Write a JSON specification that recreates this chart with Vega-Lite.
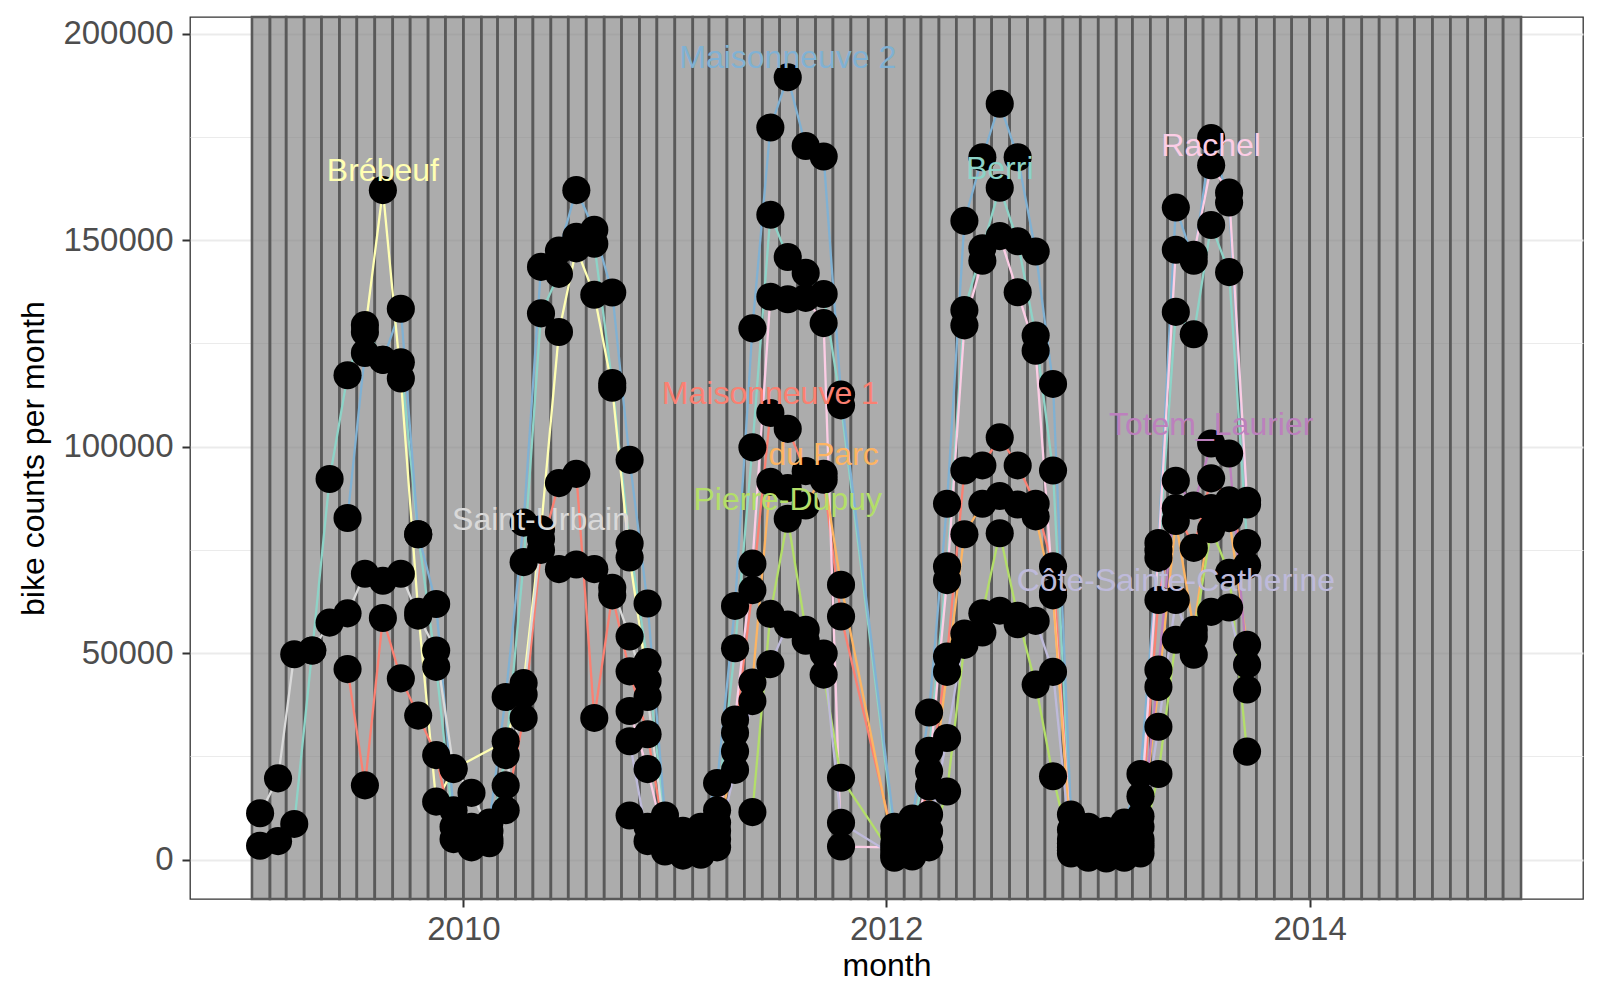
{
"$schema": "https://vega.github.io/schema/vega-lite/v6.json",
"width": 1393, "height": 882,
"autosize": {"type": "none"},
"padding": {"left": 190, "top": 17, "right": 17, "bottom": 101},
"background": "white",
"config": {
  "font": "Liberation Sans",
  "view": {"stroke": "#333333", "strokeWidth": 1.3},
  "axis": {"domain": false, "tickColor": "#333333", "tickWidth": 2, "tickSize": 8, "labelColor": "#4D4D4D", "labelFontSize": 33, "titleFontSize": 32, "titleFontWeight": "normal", "titleColor": "#000000", "gridColor": "#EBEBEB", "labelFont": "Liberation Sans", "titleFont": "Liberation Sans"}
},
"datasets": {
"months": [
{"month":"2009-01-01","end":"2009-02-01"},{"month":"2009-02-01","end":"2009-03-01"},{"month":"2009-03-01","end":"2009-04-01"},{"month":"2009-04-01","end":"2009-05-01"},{"month":"2009-05-01","end":"2009-06-01"},{"month":"2009-06-01","end":"2009-07-01"},{"month":"2009-07-01","end":"2009-08-01"},{"month":"2009-08-01","end":"2009-09-01"},{"month":"2009-09-01","end":"2009-10-01"},{"month":"2009-10-01","end":"2009-11-01"},{"month":"2009-11-01","end":"2009-12-01"},{"month":"2009-12-01","end":"2010-01-01"},
{"month":"2010-01-01","end":"2010-02-01"},{"month":"2010-02-01","end":"2010-03-01"},{"month":"2010-03-01","end":"2010-04-01"},{"month":"2010-04-01","end":"2010-05-01"},{"month":"2010-05-01","end":"2010-06-01"},{"month":"2010-06-01","end":"2010-07-01"},{"month":"2010-07-01","end":"2010-08-01"},{"month":"2010-08-01","end":"2010-09-01"},{"month":"2010-09-01","end":"2010-10-01"},{"month":"2010-10-01","end":"2010-11-01"},{"month":"2010-11-01","end":"2010-12-01"},{"month":"2010-12-01","end":"2011-01-01"},
{"month":"2011-01-01","end":"2011-02-01"},{"month":"2011-02-01","end":"2011-03-01"},{"month":"2011-03-01","end":"2011-04-01"},{"month":"2011-04-01","end":"2011-05-01"},{"month":"2011-05-01","end":"2011-06-01"},{"month":"2011-06-01","end":"2011-07-01"},{"month":"2011-07-01","end":"2011-08-01"},{"month":"2011-08-01","end":"2011-09-01"},{"month":"2011-09-01","end":"2011-10-01"},{"month":"2011-10-01","end":"2011-11-01"},{"month":"2011-11-01","end":"2011-12-01"},{"month":"2011-12-01","end":"2012-01-01"},
{"month":"2012-01-01","end":"2012-02-01"},{"month":"2012-02-01","end":"2012-03-01"},{"month":"2012-03-01","end":"2012-04-01"},{"month":"2012-04-01","end":"2012-05-01"},{"month":"2012-05-01","end":"2012-06-01"},{"month":"2012-06-01","end":"2012-07-01"},{"month":"2012-07-01","end":"2012-08-01"},{"month":"2012-08-01","end":"2012-09-01"},{"month":"2012-09-01","end":"2012-10-01"},{"month":"2012-10-01","end":"2012-11-01"},{"month":"2012-11-01","end":"2012-12-01"},{"month":"2012-12-01","end":"2013-01-01"},
{"month":"2013-01-01","end":"2013-02-01"},{"month":"2013-02-01","end":"2013-03-01"},{"month":"2013-03-01","end":"2013-04-01"},{"month":"2013-04-01","end":"2013-05-01"},{"month":"2013-05-01","end":"2013-06-01"},{"month":"2013-06-01","end":"2013-07-01"},{"month":"2013-07-01","end":"2013-08-01"},{"month":"2013-08-01","end":"2013-09-01"},{"month":"2013-09-01","end":"2013-10-01"},{"month":"2013-10-01","end":"2013-11-01"},{"month":"2013-11-01","end":"2013-12-01"},{"month":"2013-12-01","end":"2014-01-01"},
{"month":"2014-01-01","end":"2014-02-01"},{"month":"2014-02-01","end":"2014-03-01"},{"month":"2014-03-01","end":"2014-04-01"},{"month":"2014-04-01","end":"2014-05-01"},{"month":"2014-05-01","end":"2014-06-01"},{"month":"2014-06-01","end":"2014-07-01"},{"month":"2014-07-01","end":"2014-08-01"},{"month":"2014-08-01","end":"2014-09-01"},{"month":"2014-09-01","end":"2014-10-01"},{"month":"2014-10-01","end":"2014-11-01"},{"month":"2014-11-01","end":"2014-12-01"},{"month":"2014-12-01","end":"2015-01-01"}
],
"bikes": [
{"loc":"Berri","month":"2009-01-15","count":3380},{"loc":"Berri","month":"2009-02-15","count":4500},{"loc":"Berri","month":"2009-03-15","count":8670},{"loc":"Berri","month":"2009-04-15","count":50650},{"loc":"Berri","month":"2009-05-15","count":92180},{"loc":"Berri","month":"2009-06-15","count":117280},{"loc":"Berri","month":"2009-07-15","count":129440},{"loc":"Berri","month":"2009-08-15","count":120990},{"loc":"Berri","month":"2009-09-15","count":120430},{"loc":"Berri","month":"2009-10-15","count":78790},{"loc":"Berri","month":"2009-11-15","count":46700},{"loc":"Berri","month":"2009-12-15","count":8000},
{"loc":"Berri","month":"2010-01-15","count":4000},{"loc":"Berri","month":"2010-02-15","count":5000},{"loc":"Berri","month":"2010-03-15","count":25330},{"loc":"Berri","month":"2010-04-15","count":72040},{"loc":"Berri","month":"2010-05-15","count":132250},{"loc":"Berri","month":"2010-06-15","count":141820},{"loc":"Berri","month":"2010-07-15","count":150820},{"loc":"Berri","month":"2010-08-15","count":149130},{"loc":"Berri","month":"2010-09-15","count":115370},{"loc":"Berri","month":"2010-10-15","count":76540},{"loc":"Berri","month":"2010-11-15","count":47840},{"loc":"Berri","month":"2010-12-15","count":8000},
{"loc":"Berri","month":"2011-01-15","count":5500},{"loc":"Berri","month":"2011-02-15","count":6000},{"loc":"Berri","month":"2011-03-15","count":12000},{"loc":"Berri","month":"2011-04-15","count":51200},{"loc":"Berri","month":"2011-05-15","count":99830},{"loc":"Berri","month":"2011-06-15","count":156140},{"loc":"Berri","month":"2011-07-15","count":145900},{"loc":"Berri","month":"2011-08-15","count":142060},{"loc":"Berri","month":"2011-09-15","count":136950},{"loc":"Berri","month":"2011-10-15","count":110000},
{"loc":"Berri","month":"2012-01-15","count":6000},{"loc":"Berri","month":"2012-02-15","count":7000},{"loc":"Berri","month":"2012-03-15","count":26370},{"loc":"Berri","month":"2012-04-15","count":71010},{"loc":"Berri","month":"2012-05-15","count":133060},{"loc":"Berri","month":"2012-06-15","count":148000},{"loc":"Berri","month":"2012-07-15","count":162670},{"loc":"Berri","month":"2012-08-15","count":149710},{"loc":"Berri","month":"2012-09-15","count":126900},{"loc":"Berri","month":"2012-10-15","count":94210},{"loc":"Berri","month":"2012-11-15","count":7260},{"loc":"Berri","month":"2012-12-15","count":6000},
{"loc":"Berri","month":"2013-01-15","count":5000},{"loc":"Berri","month":"2013-02-15","count":6000},{"loc":"Berri","month":"2013-03-15","count":15380},{"loc":"Berri","month":"2013-04-15","count":73080},{"loc":"Berri","month":"2013-05-15","count":132620},{"loc":"Berri","month":"2013-06-15","count":127200},{"loc":"Berri","month":"2013-07-15","count":153660},{"loc":"Berri","month":"2013-08-15","count":142240},{"loc":"Berri","month":"2013-09-15","count":76690},
{"loc":"Maisonneuve 2","month":"2009-06-15","count":82730},{"loc":"Maisonneuve 2","month":"2009-07-15","count":122680},{"loc":"Maisonneuve 2","month":"2009-08-15","count":120990},{"loc":"Maisonneuve 2","month":"2009-09-15","count":133370},{"loc":"Maisonneuve 2","month":"2009-10-15","count":78790},{"loc":"Maisonneuve 2","month":"2009-11-15","count":61900},{"loc":"Maisonneuve 2","month":"2009-12-15","count":12000},
{"loc":"Maisonneuve 2","month":"2010-01-15","count":8000},{"loc":"Maisonneuve 2","month":"2010-02-15","count":9000},{"loc":"Maisonneuve 2","month":"2010-03-15","count":39400},{"loc":"Maisonneuve 2","month":"2010-04-15","count":81600},{"loc":"Maisonneuve 2","month":"2010-05-15","count":143510},{"loc":"Maisonneuve 2","month":"2010-06-15","count":147450},{"loc":"Maisonneuve 2","month":"2010-07-15","count":162080},{"loc":"Maisonneuve 2","month":"2010-08-15","count":152510},{"loc":"Maisonneuve 2","month":"2010-09-15","count":137310},{"loc":"Maisonneuve 2","month":"2010-10-15","count":96800},{"loc":"Maisonneuve 2","month":"2010-11-15","count":62030},{"loc":"Maisonneuve 2","month":"2010-12-15","count":10700},
{"loc":"Maisonneuve 2","month":"2011-01-15","count":7000},{"loc":"Maisonneuve 2","month":"2011-02-15","count":8000},{"loc":"Maisonneuve 2","month":"2011-03-15","count":18560},{"loc":"Maisonneuve 2","month":"2011-04-15","count":61440},{"loc":"Maisonneuve 2","month":"2011-05-15","count":128630},{"loc":"Maisonneuve 2","month":"2011-06-15","count":177260},{"loc":"Maisonneuve 2","month":"2011-07-15","count":189400},{"loc":"Maisonneuve 2","month":"2011-08-15","count":172780},{"loc":"Maisonneuve 2","month":"2011-09-15","count":170220},{"loc":"Maisonneuve 2","month":"2011-10-15","count":112630},
{"loc":"Maisonneuve 2","month":"2012-01-15","count":8000},{"loc":"Maisonneuve 2","month":"2012-02-15","count":10000},{"loc":"Maisonneuve 2","month":"2012-03-15","count":35630},{"loc":"Maisonneuve 2","month":"2012-04-15","count":86190},{"loc":"Maisonneuve 2","month":"2012-05-15","count":154650},{"loc":"Maisonneuve 2","month":"2012-06-15","count":170060},{"loc":"Maisonneuve 2","month":"2012-07-15","count":183000},{"loc":"Maisonneuve 2","month":"2012-08-15","count":170060},{"loc":"Maisonneuve 2","month":"2012-09-15","count":147250},{"loc":"Maisonneuve 2","month":"2012-10-15","count":115180},{"loc":"Maisonneuve 2","month":"2012-11-15","count":10960},{"loc":"Maisonneuve 2","month":"2012-12-15","count":8000},
{"loc":"Maisonneuve 2","month":"2013-01-15","count":7000},{"loc":"Maisonneuve 2","month":"2013-02-15","count":9000},{"loc":"Maisonneuve 2","month":"2013-03-15","count":20760},{"loc":"Maisonneuve 2","month":"2013-04-15","count":76690},{"loc":"Maisonneuve 2","month":"2013-05-15","count":157870},{"loc":"Maisonneuve 2","month":"2013-06-15","count":145000},{"loc":"Maisonneuve 2","month":"2013-07-15","count":174710},{"loc":"Maisonneuve 2","month":"2013-08-15","count":159080},{"loc":"Maisonneuve 2","month":"2013-09-15","count":86000},
{"loc":"Brébeuf","month":"2009-07-15","count":127750},{"loc":"Brébeuf","month":"2009-08-15","count":162080},{"loc":"Brébeuf","month":"2009-09-15","count":116490},{"loc":"Brébeuf","month":"2009-10-15","count":60000},{"loc":"Brébeuf","month":"2009-11-15","count":14070},{"loc":"Brébeuf","month":"2009-12-15","count":21950},
{"loc":"Brébeuf","month":"2010-03-15","count":28700},{"loc":"Brébeuf","month":"2010-04-15","count":42770},{"loc":"Brébeuf","month":"2010-05-15","count":80000},{"loc":"Brébeuf","month":"2010-06-15","count":127750},{"loc":"Brébeuf","month":"2010-07-15","count":148000},{"loc":"Brébeuf","month":"2010-08-15","count":136750},{"loc":"Brébeuf","month":"2010-09-15","count":114240},{"loc":"Brébeuf","month":"2010-10-15","count":73160},{"loc":"Brébeuf","month":"2010-11-15","count":43330},
{"loc":"Maisonneuve 1","month":"2009-06-15","count":46150},{"loc":"Maisonneuve 1","month":"2009-07-15","count":18010},{"loc":"Maisonneuve 1","month":"2009-08-15","count":58530},{"loc":"Maisonneuve 1","month":"2009-09-15","count":43900},{"loc":"Maisonneuve 1","month":"2009-10-15","count":34900},{"loc":"Maisonneuve 1","month":"2009-11-15","count":25330},{"loc":"Maisonneuve 1","month":"2009-12-15","count":5000},
{"loc":"Maisonneuve 1","month":"2010-01-15","count":3000},{"loc":"Maisonneuve 1","month":"2010-02-15","count":4000},{"loc":"Maisonneuve 1","month":"2010-03-15","count":12000},{"loc":"Maisonneuve 1","month":"2010-04-15","count":34330},{"loc":"Maisonneuve 1","month":"2010-05-15","count":75000},{"loc":"Maisonneuve 1","month":"2010-06-15","count":91170},{"loc":"Maisonneuve 1","month":"2010-07-15","count":93420},{"loc":"Maisonneuve 1","month":"2010-08-15","count":34330},{"loc":"Maisonneuve 1","month":"2010-09-15","count":64000},{"loc":"Maisonneuve 1","month":"2010-10-15","count":45590},{"loc":"Maisonneuve 1","month":"2010-11-15","count":30390},{"loc":"Maisonneuve 1","month":"2010-12-15","count":5000},
{"loc":"Maisonneuve 1","month":"2011-01-15","count":4000},{"loc":"Maisonneuve 1","month":"2011-02-15","count":4500},{"loc":"Maisonneuve 1","month":"2011-03-15","count":9000},{"loc":"Maisonneuve 1","month":"2011-04-15","count":30720},{"loc":"Maisonneuve 1","month":"2011-05-15","count":65270},{"loc":"Maisonneuve 1","month":"2011-06-15","count":108150},{"loc":"Maisonneuve 1","month":"2011-07-15","count":104310},{"loc":"Maisonneuve 1","month":"2011-08-15","count":94070},{"loc":"Maisonneuve 1","month":"2011-09-15","count":92000},{"loc":"Maisonneuve 1","month":"2011-10-15","count":58880},
{"loc":"Maisonneuve 1","month":"2012-01-15","count":4000},{"loc":"Maisonneuve 1","month":"2012-02-15","count":5000},{"loc":"Maisonneuve 1","month":"2012-03-15","count":17740},{"loc":"Maisonneuve 1","month":"2012-04-15","count":49190},{"loc":"Maisonneuve 1","month":"2012-05-15","count":94210},{"loc":"Maisonneuve 1","month":"2012-06-15","count":95450},{"loc":"Maisonneuve 1","month":"2012-07-15","count":102230},{"loc":"Maisonneuve 1","month":"2012-08-15","count":95450},{"loc":"Maisonneuve 1","month":"2012-09-15","count":86190},{"loc":"Maisonneuve 1","month":"2012-10-15","count":71010},{"loc":"Maisonneuve 1","month":"2012-11-15","count":4000},{"loc":"Maisonneuve 1","month":"2012-12-15","count":4000},
{"loc":"Maisonneuve 1","month":"2013-01-15","count":3500},{"loc":"Maisonneuve 1","month":"2013-02-15","count":4500},{"loc":"Maisonneuve 1","month":"2013-03-15","count":8000},{"loc":"Maisonneuve 1","month":"2013-04-15","count":62860},{"loc":"Maisonneuve 1","month":"2013-05-15","count":85110},{"loc":"Maisonneuve 1","month":"2013-06-15","count":75490},{"loc":"Maisonneuve 1","month":"2013-07-15","count":92330},{"loc":"Maisonneuve 1","month":"2013-08-15","count":87000},{"loc":"Maisonneuve 1","month":"2013-09-15","count":71280},
{"loc":"Saint-Urbain","month":"2009-01-15","count":11260},{"loc":"Saint-Urbain","month":"2009-02-15","count":19700},{"loc":"Saint-Urbain","month":"2009-03-15","count":49750},{"loc":"Saint-Urbain","month":"2009-04-15","count":50650},{"loc":"Saint-Urbain","month":"2009-05-15","count":57400},{"loc":"Saint-Urbain","month":"2009-06-15","count":59650},{"loc":"Saint-Urbain","month":"2009-07-15","count":69220},{"loc":"Saint-Urbain","month":"2009-08-15","count":67530},{"loc":"Saint-Urbain","month":"2009-09-15","count":69220},{"loc":"Saint-Urbain","month":"2009-10-15","count":59090},{"loc":"Saint-Urbain","month":"2009-11-15","count":50650},{"loc":"Saint-Urbain","month":"2009-12-15","count":22170},
{"loc":"Saint-Urbain","month":"2010-01-15","count":16200},{"loc":"Saint-Urbain","month":"2010-02-15","count":7000},{"loc":"Saint-Urbain","month":"2010-03-15","count":18000},{"loc":"Saint-Urbain","month":"2010-04-15","count":40000},{"loc":"Saint-Urbain","month":"2010-05-15","count":77660},{"loc":"Saint-Urbain","month":"2010-06-15","count":70350},{"loc":"Saint-Urbain","month":"2010-07-15","count":71470},{"loc":"Saint-Urbain","month":"2010-08-15","count":70350},{"loc":"Saint-Urbain","month":"2010-09-15","count":65850},{"loc":"Saint-Urbain","month":"2010-10-15","count":54030},{"loc":"Saint-Urbain","month":"2010-11-15","count":39400},{"loc":"Saint-Urbain","month":"2010-12-15","count":6000},
{"loc":"Rachel","month":"2010-10-15","count":36020},{"loc":"Rachel","month":"2010-11-15","count":21950},{"loc":"Rachel","month":"2010-12-15","count":4000},
{"loc":"Rachel","month":"2011-01-15","count":3000},{"loc":"Rachel","month":"2011-02-15","count":3500},{"loc":"Rachel","month":"2011-03-15","count":7000},{"loc":"Rachel","month":"2011-04-15","count":33920},{"loc":"Rachel","month":"2011-05-15","count":71680},{"loc":"Rachel","month":"2011-06-15","count":136300},{"loc":"Rachel","month":"2011-07-15","count":135670},{"loc":"Rachel","month":"2011-08-15","count":136000},{"loc":"Rachel","month":"2011-09-15","count":129910},{"loc":"Rachel","month":"2011-10-15","count":3200},
{"loc":"Rachel","month":"2012-01-15","count":3000},{"loc":"Rachel","month":"2012-02-15","count":3500},{"loc":"Rachel","month":"2012-03-15","count":21440},{"loc":"Rachel","month":"2012-04-15","count":67690},{"loc":"Rachel","month":"2012-05-15","count":129360},{"loc":"Rachel","month":"2012-06-15","count":145000},{"loc":"Rachel","month":"2012-07-15","count":150950},{"loc":"Rachel","month":"2012-08-15","count":137380},{"loc":"Rachel","month":"2012-09-15","count":123200},{"loc":"Rachel","month":"2012-10-15","count":64620},{"loc":"Rachel","month":"2012-11-15","count":5000},{"loc":"Rachel","month":"2012-12-15","count":3000},
{"loc":"Rachel","month":"2013-01-15","count":2500},{"loc":"Rachel","month":"2013-02-15","count":3000},{"loc":"Rachel","month":"2013-03-15","count":10540},{"loc":"Rachel","month":"2013-04-15","count":74890},{"loc":"Rachel","month":"2013-05-15","count":147650},{"loc":"Rachel","month":"2013-06-15","count":146450},{"loc":"Rachel","month":"2013-07-15","count":168100},{"loc":"Rachel","month":"2013-08-15","count":161480},{"loc":"Rachel","month":"2013-09-15","count":86910},
{"loc":"du Parc","month":"2010-10-15","count":10700},{"loc":"du Parc","month":"2010-11-15","count":8000},{"loc":"du Parc","month":"2010-12-15","count":3000},
{"loc":"du Parc","month":"2011-01-15","count":2000},{"loc":"du Parc","month":"2011-02-15","count":2500},{"loc":"du Parc","month":"2011-03-15","count":5000},{"loc":"du Parc","month":"2011-04-15","count":26200},{"loc":"du Parc","month":"2011-05-15","count":42880},{"loc":"du Parc","month":"2011-06-15","count":91500},{"loc":"du Parc","month":"2011-07-15","count":90000},{"loc":"du Parc","month":"2011-08-15","count":85750},{"loc":"du Parc","month":"2011-09-15","count":93430},{"loc":"du Parc","month":"2011-10-15","count":66560},
{"loc":"du Parc","month":"2012-01-15","count":2000},{"loc":"du Parc","month":"2012-02-15","count":2500},{"loc":"du Parc","month":"2012-03-15","count":10960},{"loc":"du Parc","month":"2012-04-15","count":45490},{"loc":"du Parc","month":"2012-05-15","count":78790},{"loc":"du Parc","month":"2012-06-15","count":86190},{"loc":"du Parc","month":"2012-07-15","count":88040},{"loc":"du Parc","month":"2012-08-15","count":86000},{"loc":"du Parc","month":"2012-09-15","count":83110},{"loc":"du Parc","month":"2012-10-15","count":64000},{"loc":"du Parc","month":"2012-11-15","count":3000},{"loc":"du Parc","month":"2012-12-15","count":2000},
{"loc":"du Parc","month":"2013-01-15","count":1500},{"loc":"du Parc","month":"2013-02-15","count":2000},{"loc":"du Parc","month":"2013-03-15","count":5000},{"loc":"du Parc","month":"2013-04-15","count":41810},{"loc":"du Parc","month":"2013-05-15","count":82000},{"loc":"du Parc","month":"2013-06-15","count":55640},{"loc":"du Parc","month":"2013-07-15","count":85110},{"loc":"du Parc","month":"2013-08-15","count":82700},{"loc":"du Parc","month":"2013-09-15","count":52040},
{"loc":"Pierre-Dupuy","month":"2011-05-15","count":11530},{"loc":"Pierre-Dupuy","month":"2011-06-15","count":59520},{"loc":"Pierre-Dupuy","month":"2011-07-15","count":82550},{"loc":"Pierre-Dupuy","month":"2011-08-15","count":55680},{"loc":"Pierre-Dupuy","month":"2011-09-15","count":44800},{"loc":"Pierre-Dupuy","month":"2011-10-15","count":19840},
{"loc":"Pierre-Dupuy","month":"2012-01-15","count":500},{"loc":"Pierre-Dupuy","month":"2012-02-15","count":800},{"loc":"Pierre-Dupuy","month":"2012-03-15","count":3000},
{"loc":"Pierre-Dupuy","month":"2012-04-15","count":16510},{"loc":"Pierre-Dupuy","month":"2012-05-15","count":52000},{"loc":"Pierre-Dupuy","month":"2012-06-15","count":59670},{"loc":"Pierre-Dupuy","month":"2012-07-15","count":79030},{"loc":"Pierre-Dupuy","month":"2012-08-15","count":59060},{"loc":"Pierre-Dupuy","month":"2012-09-15","count":42400},{"loc":"Pierre-Dupuy","month":"2012-10-15","count":20210},{"loc":"Pierre-Dupuy","month":"2012-11-15","count":1500},
{"loc":"Pierre-Dupuy","month":"2012-12-15","count":500},{"loc":"Pierre-Dupuy","month":"2013-01-15","count":300},{"loc":"Pierre-Dupuy","month":"2013-02-15","count":500},{"loc":"Pierre-Dupuy","month":"2013-03-15","count":1500},
{"loc":"Pierre-Dupuy","month":"2013-04-15","count":20760},{"loc":"Pierre-Dupuy","month":"2013-05-15","count":53240},{"loc":"Pierre-Dupuy","month":"2013-06-15","count":54000},{"loc":"Pierre-Dupuy","month":"2013-07-15","count":80000},{"loc":"Pierre-Dupuy","month":"2013-08-15","count":69470},{"loc":"Pierre-Dupuy","month":"2013-09-15","count":26180},
{"loc":"Côte-Sainte-Catherine","month":"2010-10-15","count":28700},{"loc":"Côte-Sainte-Catherine","month":"2010-11-15","count":4500},{"loc":"Côte-Sainte-Catherine","month":"2010-12-15","count":2000},
{"loc":"Côte-Sainte-Catherine","month":"2011-01-15","count":1000},{"loc":"Côte-Sainte-Catherine","month":"2011-02-15","count":1200},{"loc":"Côte-Sainte-Catherine","month":"2011-03-15","count":3000},{"loc":"Côte-Sainte-Catherine","month":"2011-04-15","count":21750},{"loc":"Côte-Sainte-Catherine","month":"2011-05-15","count":38400},{"loc":"Côte-Sainte-Catherine","month":"2011-06-15","count":47360},{"loc":"Côte-Sainte-Catherine","month":"2011-07-15","count":56960},{"loc":"Côte-Sainte-Catherine","month":"2011-08-15","count":53000},{"loc":"Côte-Sainte-Catherine","month":"2011-09-15","count":49920},{"loc":"Côte-Sainte-Catherine","month":"2011-10-15","count":8970},
{"loc":"Côte-Sainte-Catherine","month":"2012-01-15","count":1000},{"loc":"Côte-Sainte-Catherine","month":"2012-02-15","count":1500},{"loc":"Côte-Sainte-Catherine","month":"2012-03-15","count":7000},{"loc":"Côte-Sainte-Catherine","month":"2012-04-15","count":29460},{"loc":"Côte-Sainte-Catherine","month":"2012-05-15","count":54740},{"loc":"Côte-Sainte-Catherine","month":"2012-06-15","count":55000},{"loc":"Côte-Sainte-Catherine","month":"2012-07-15","count":60290},{"loc":"Côte-Sainte-Catherine","month":"2012-08-15","count":57000},{"loc":"Côte-Sainte-Catherine","month":"2012-09-15","count":57820},{"loc":"Côte-Sainte-Catherine","month":"2012-10-15","count":45490},{"loc":"Côte-Sainte-Catherine","month":"2012-11-15","count":2320},{"loc":"Côte-Sainte-Catherine","month":"2012-12-15","count":1000},
{"loc":"Côte-Sainte-Catherine","month":"2013-01-15","count":800},{"loc":"Côte-Sainte-Catherine","month":"2013-02-15","count":1000},{"loc":"Côte-Sainte-Catherine","month":"2013-03-15","count":3000},{"loc":"Côte-Sainte-Catherine","month":"2013-04-15","count":32180},{"loc":"Côte-Sainte-Catherine","month":"2013-05-15","count":62860},{"loc":"Côte-Sainte-Catherine","month":"2013-06-15","count":49630},{"loc":"Côte-Sainte-Catherine","month":"2013-07-15","count":60000},{"loc":"Côte-Sainte-Catherine","month":"2013-08-15","count":61060},{"loc":"Côte-Sainte-Catherine","month":"2013-09-15","count":41220},
{"loc":"Totem_Laurier","month":"2013-01-15","count":2000},{"loc":"Totem_Laurier","month":"2013-02-15","count":3000},{"loc":"Totem_Laurier","month":"2013-03-15","count":4000},{"loc":"Totem_Laurier","month":"2013-04-15","count":46020},{"loc":"Totem_Laurier","month":"2013-05-15","count":91730},{"loc":"Totem_Laurier","month":"2013-06-15","count":85710},{"loc":"Totem_Laurier","month":"2013-07-15","count":100750},{"loc":"Totem_Laurier","month":"2013-08-15","count":98340},{"loc":"Totem_Laurier","month":"2013-09-15","count":47230}
]
},
"encoding": {
  "x": {"field": "month", "type": "temporal",
        "scale": {"type": "utc", "domain": [{"year": 2008, "month": 9, "date": 16, "utc": true}, {"year": 2015, "month": 4, "date": 18, "utc": true}]},
        "axis": {"title": "month",
                 "values": [{"year": 2009, "month": 1, "date": 1, "utc": true}, {"year": 2010, "month": 1, "date": 1, "utc": true}, {"year": 2011, "month": 1, "date": 1, "utc": true}, {"year": 2012, "month": 1, "date": 1, "utc": true}, {"year": 2013, "month": 1, "date": 1, "utc": true}, {"year": 2014, "month": 1, "date": 1, "utc": true}, {"year": 2015, "month": 1, "date": 1, "utc": true}],
                 "labelExpr": "utcyear(datum.value) % 2 === 0 ? utcFormat(datum.value, '%Y') : ''",
                 "grid": true,
                 "gridWidth": {"condition": {"test": "utcyear(datum.value) % 2 === 0", "value": 2}, "value": 1},
                 "tickOpacity": {"condition": {"test": "utcyear(datum.value) % 2 === 0", "value": 1}, "value": 0},
                 "labelPadding": 6, "titlePadding": 4, "labelFlush": false, "labelOverlap": false}}
},
"layer": [
{
 "data": {"name": "months"},
 "mark": {"type": "rect", "fill": "#7f7f7f", "fillOpacity": 0.65, "stroke": "#595959", "strokeWidth": 2.6},
 "encoding": {
  "x2": {"field": "end"}
 }
},
{
 "data": {"name": "bikes"},
 "mark": {"type": "line", "strokeWidth": 2.3},
 "encoding": {
  "y": {"field": "count", "type": "quantitative",
        "scale": {"domain": [-9500, 204000], "nice": false, "zero": false},
        "axis": {"title": "bike counts per month",
                 "values": [0, 25000, 50000, 75000, 100000, 125000, 150000, 175000, 200000],
                 "format": "d",
                 "labelExpr": "datum.value % 50000 === 0 ? datum.label : ''",
                 "grid": true,
                 "gridWidth": {"condition": {"test": "datum.value % 50000 === 0", "value": 2}, "value": 1},
                 "tickOpacity": {"condition": {"test": "datum.value % 50000 === 0", "value": 1}, "value": 0},
                 "labelPadding": 9, "titlePadding": 12, "labelOverlap": false}},
  "color": {"field": "loc", "type": "nominal", "legend": null,
            "scale": {"domain": ["Berri","Brébeuf","Côte-Sainte-Catherine","Maisonneuve 1","Maisonneuve 2","du Parc","Pierre-Dupuy","Rachel","Saint-Urbain","Totem_Laurier"],
                      "range": ["#8DD3C7","#FFFFB3","#BEBADA","#FB8072","#80B1D3","#FDB462","#B3DE69","#FCCDE5","#D9D9D9","#BC80BD"]}}
 }
},
{
 "data": {"name": "bikes"},
 "mark": {"type": "circle", "color": "#000000", "opacity": 1, "size": 790},
 "encoding": {
  "y": {"field": "count", "type": "quantitative"}
 }
},
{
 "data": {"name": "bikes"},
 "transform": [
  {"joinaggregate": [{"op": "max", "field": "count", "as": "maxc"}], "groupby": ["loc"]},
  {"filter": "datum.count === datum.maxc"}
 ],
 "mark": {"type": "text", "fontSize": 32, "baseline": "bottom", "align": "center", "font": "Liberation Sans", "dy": -2},
 "encoding": {
  "y": {"field": "count", "type": "quantitative"},
  "text": {"field": "loc", "type": "nominal"},
  "color": {"field": "loc", "type": "nominal", "legend": null}
 }
}
]
}
